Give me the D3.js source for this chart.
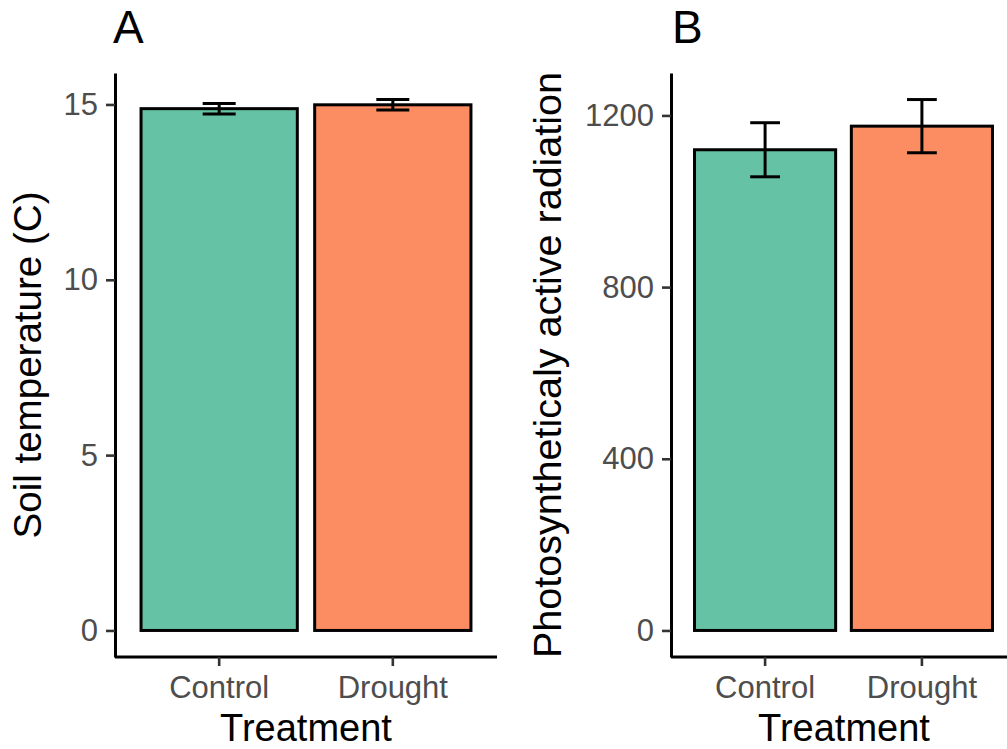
<!DOCTYPE html>
<html>
<head>
<meta charset="utf-8">
<script src="https://cdn.jsdelivr.net/npm/d3@7"></script>
<style>
  html, body { margin: 0; padding: 0; background: #fff; }
  svg { display: block; font-family: "Liberation Sans", Arial, Helvetica, sans-serif; }
</style>
</head>
<body>
<svg id="chart" width="1007" height="749"></svg>
<script>
// ---- data ----
const categories = ["Control", "Drought"];
const colors = ["#66C2A5", "#FC8D62"];

const soilTempMean = [14.88, 14.99];
const soilTempSE = [0.15, 0.15];
const soilTempTicks = [0, 5, 10, 15];

const parMean = [1120, 1175];
const parSE = [63, 62];
const parTicks = [0, 400, 800, 1200];

const panels = [
  { letter: "A", ytitle: "Soil temperature (C)", mean: soilTempMean, se: soilTempSE, ticks: soilTempTicks,
    xr: [115, 497], letterX: 113, ytitleX: 41, ytitleLen: 347, xtitleX: 306 },
  { letter: "B", ytitle: "Photosyntheticaly active radiation", mean: parMean, se: parSE, ticks: parTicks,
    xr: [671, 1016], letterX: 672, ytitleX: 561, ytitleLen: 586, xtitleX: 844 }
];

const svg = d3.select("#chart");
const yBottom = 657, yTop = 73;
const tickFont = "31px";

panels.forEach(p => {
  const g = svg.append("g");
  const ymax = d3.max(p.mean.map((m, i) => m + p.se[i]));
  const ex = 0.05 * ymax;
  const y = d3.scaleLinear().domain([-ex, ymax + ex]).range([yBottom, yTop]);
  const x = d3.scaleBand().domain(categories).range(p.xr).paddingInner(0.1).paddingOuter(0.15);
  const step = x.step();

  // bars
  g.selectAll("rect.bar").data(categories).enter().append("rect")
    .attr("x", d => x(d))
    .attr("width", x.bandwidth())
    .attr("y", (d, i) => y(p.mean[i]))
    .attr("height", (d, i) => y(0) - y(p.mean[i]))
    .attr("fill", (d, i) => colors[i])
    .attr("stroke", "#000")
    .attr("stroke-width", 3);

  // error bars
  const cw = 0.19 * step;
  categories.forEach((c, i) => {
    const cx = x(c) + x.bandwidth() / 2;
    const lo = y(p.mean[i] - p.se[i]), hi = y(p.mean[i] + p.se[i]);
    const eg = g.append("g").attr("stroke", "#000").attr("stroke-width", 3).attr("fill", "none");
    eg.append("line").attr("x1", cx).attr("x2", cx).attr("y1", lo).attr("y2", hi);
    eg.append("line").attr("x1", cx - cw / 2).attr("x2", cx + cw / 2).attr("y1", lo).attr("y2", lo);
    eg.append("line").attr("x1", cx - cw / 2).attr("x2", cx + cw / 2).attr("y1", hi).attr("y2", hi);
  });

  // y axis
  const yAxis = d3.axisLeft(y).tickValues(p.ticks).tickFormat(d3.format("d"))
    .tickSize(9).tickPadding(8).tickSizeOuter(0);
  const ya = g.append("g").attr("transform", `translate(${p.xr[0]},0)`).call(yAxis);
  ya.select(".domain").attr("stroke", "#000").attr("stroke-width", 3);
  ya.selectAll(".tick line").attr("stroke", "#333").attr("stroke-width", 2.6);
  ya.selectAll(".tick text").attr("fill", "#4D4D4D").style("font-size", tickFont)
    .style("font-family", "'Liberation Sans', Arial, sans-serif");

  // x axis
  const xAxis = d3.axisBottom(x).tickSize(9).tickPadding(6).tickSizeOuter(0);
  const xa = g.append("g").attr("transform", `translate(0,${yBottom})`).call(xAxis);
  xa.select(".domain").attr("stroke", "#000").attr("stroke-width", 3)
    .attr("d", `M${p.xr[0]},0H${p.xr[1]}`);
  xa.selectAll(".tick line").attr("stroke", "#333").attr("stroke-width", 2.6);
  xa.selectAll(".tick text").attr("fill", "#4D4D4D").style("font-size", tickFont)
    .style("font-family", "'Liberation Sans', Arial, sans-serif")
    .attr("dy", null).attr("y", 41);

  // x title
  g.append("text").attr("x", p.xtitleX).attr("y", 741)
    .attr("text-anchor", "middle").style("font-size", "38px").attr("fill", "#000")
    .text("Treatment");

  // y title
  g.append("text")
    .attr("transform", `translate(${p.ytitleX},${(yBottom + yTop) / 2}) rotate(-90)`)
    .attr("text-anchor", "middle").style("font-size", "38px").attr("fill", "#000")
    .attr("textLength", p.ytitleLen).attr("lengthAdjust", "spacingAndGlyphs")
    .text(p.ytitle);

  // panel letter
  g.append("text").attr("x", p.letterX).attr("y", 43)
    .style("font-size", "46px").attr("fill", "#000").text(p.letter);
});
</script>
</body>
</html>
